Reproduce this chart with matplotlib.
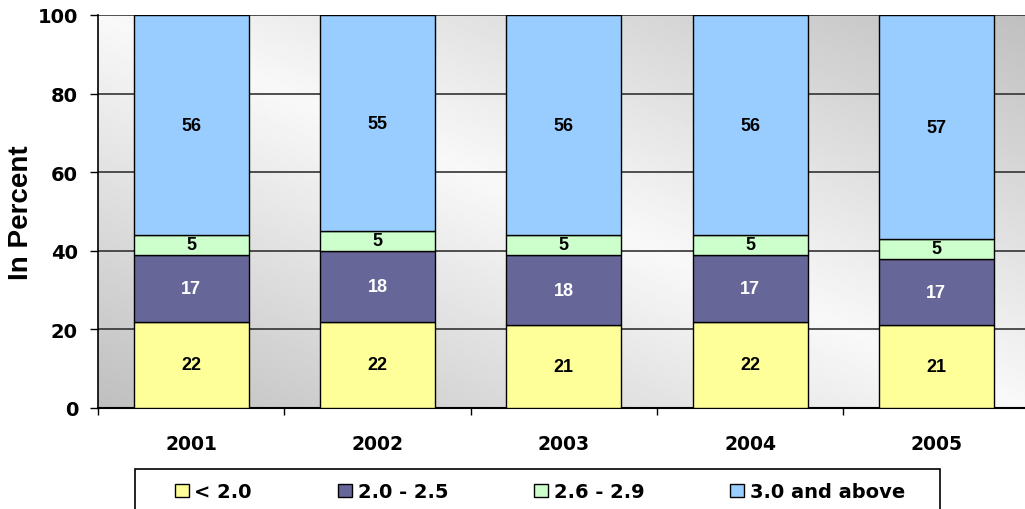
import numpy as np
import matplotlib
matplotlib.use("Agg")
import matplotlib.pyplot as plt
from matplotlib.patches import Patch, Rectangle

# ---- data ----
years = ["2001", "2002", "2003", "2004", "2005"]
series_names = ["< 2.0", "2.0 - 2.5", "2.6 - 2.9", "3.0 and above"]
lt_2_0 = [22, 22, 21, 22, 21]
s_2_0_2_5 = [17, 18, 18, 17, 17]
s_2_6_2_9 = [5, 5, 5, 5, 5]
ge_3_0 = [56, 55, 56, 56, 57]
series_values = [lt_2_0, s_2_0_2_5, s_2_6_2_9, ge_3_0]
series_colors = ["#FFFF99", "#666699", "#CCFFCC", "#99CCFF"]
label_colors = ["black", "white", "black", "black"]
y_ticks = [0, 20, 40, 60, 80, 100]

W, H = 1025, 510
fig = plt.figure(figsize=(W / 100, H / 100), dpi=100)
fig.patch.set_facecolor("white")

ax_l, ax_r, ax_t, ax_b = 98, 1029.5, 16, 409
ax = fig.add_axes([ax_l / W, 1 - ax_b / H, (ax_r - ax_l) / W, (ax_b - ax_t) / H])

n = len(years)
x = np.arange(n)

# gradient background (plot area fill)
gx = np.linspace(0, 1, 400)
gy = np.linspace(0, 1, 200)
GX, GY = np.meshgrid(gx, gy)
d = np.abs(GX + GY - 1)
light, dark = 0.975, 0.75
grad = light - (light - dark) * d
ax.imshow(grad, extent=[-0.5, n - 0.5, 0, 100], origin="lower", aspect="auto",
          cmap="gray", vmin=0, vmax=1, zorder=0, interpolation="bilinear")

bottom = np.zeros(n)
bar_w = 0.617
for vals, col, lc in zip(series_values, series_colors, label_colors):
    vals = np.array(vals, dtype=float)
    ax.bar(x, vals, bar_w, bottom=bottom, color=col, edgecolor="black",
           linewidth=1.0, zorder=3)
    for xi, b, v in zip(x, bottom, vals):
        ax.text(xi, b + v / 2, f"{int(v)}", ha="center", va="center",
                color=lc, fontsize=13, fontweight="bold",
                family="Liberation Sans", zorder=4)
    bottom += vals

ax.set_xlim(-0.5, n - 0.5)
ax.set_ylim(0, 100)
ax.set_yticks(y_ticks)
ax.set_yticklabels([str(t) for t in y_ticks])
ax.set_xticks(x)
ax.set_xticklabels(years)
ax.set_xticks(np.arange(n + 1) - 0.5, minor=True)
ax.tick_params(axis="x", which="major", length=0, pad=19, labelsize=13.5)
ax.tick_params(axis="x", which="minor", length=5, width=1, color="black")
ax.tick_params(axis="y", length=5.8, width=1, pad=8.6, labelsize=14)
for lab in ax.get_xticklabels() + ax.get_yticklabels():
    lab.set_fontweight("bold")
    lab.set_family("DejaVu Sans")

ax.yaxis.grid(True, color="#333333", linewidth=1.2)
ax.set_axisbelow(True)
for s in ["top", "right"]:
    ax.spines[s].set_visible(False)
ax.spines["left"].set_linewidth(1.2)
ax.spines["bottom"].set_linewidth(1.5)

ax.set_ylabel("In Percent", fontsize=20, fontweight="bold", family="Liberation Sans",
              va="center")
ax.yaxis.set_label_coords(-(ax_l - 21) / (ax_r - ax_l), 0.5)

# legend
handles = [Patch(facecolor=c, edgecolor="black", linewidth=1) for c in series_colors]
leg_x0, leg_x1 = 175, 905
fig.legend(handles, series_names, loc="upper left",
           bbox_to_anchor=(leg_x0 / W, 1 - 484 / H, (leg_x1 - leg_x0) / W, 0.001),
           mode="expand", ncol=4, frameon=False, borderpad=0, borderaxespad=0,
           handlelength=0.7, handleheight=0.7, handletextpad=0.3,
           prop={"family": "DejaVu Sans", "weight": "bold", "size": 14})
fig.patches.append(Rectangle((135 / W, 1 - 530 / H), (940 - 135) / W, 60 / H,
                             transform=fig.transFigure, fill=False,
                             edgecolor="black", linewidth=1.2, clip_on=False))

fig.savefig("out.png", dpi=100)
